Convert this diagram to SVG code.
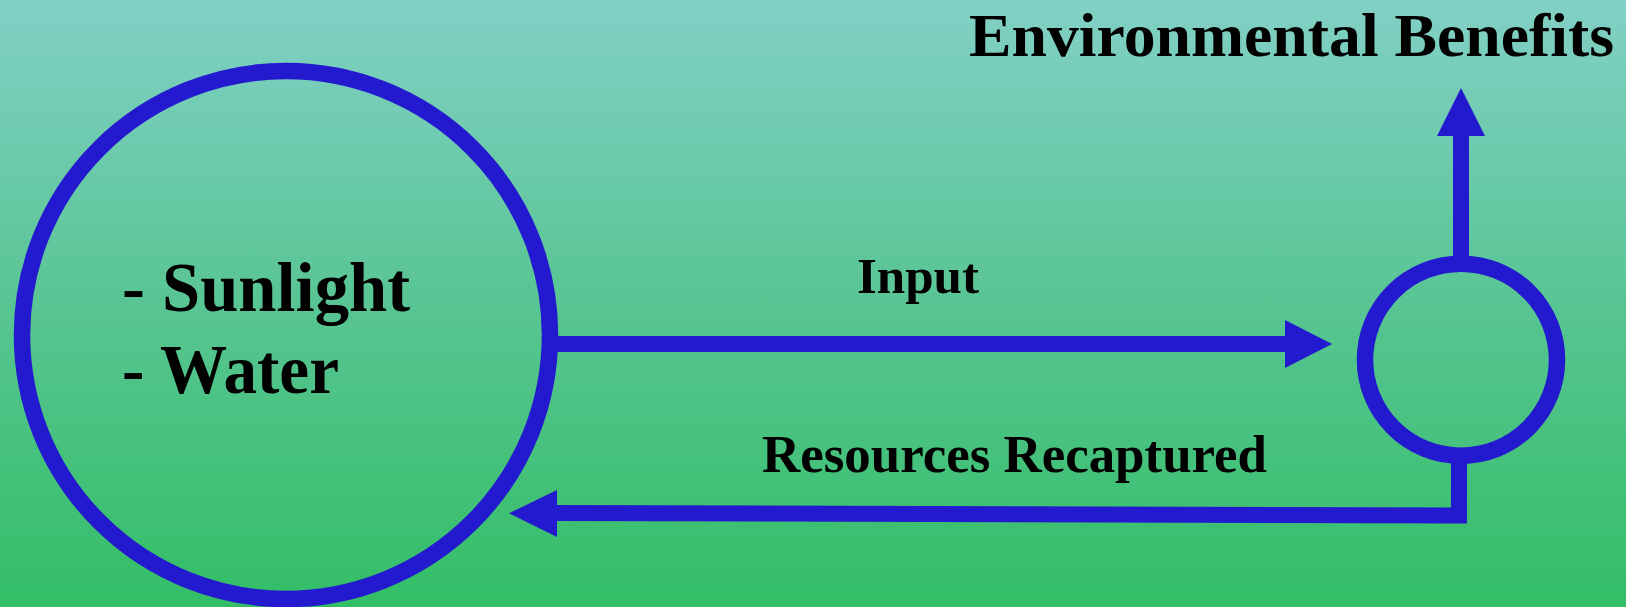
<svg xmlns="http://www.w3.org/2000/svg" width="1626" height="607" viewBox="0 0 1626 607">
  <defs>
    <linearGradient id="bg" x1="0" y1="0" x2="0" y2="1">
      <stop offset="0" stop-color="#82D0C6"/>
      <stop offset="0.5" stop-color="#58C593"/>
      <stop offset="1" stop-color="#33BE66"/>
    </linearGradient>
  </defs>
  <style>
    .ring { fill: none; stroke: #2319CF; stroke-width: 16.5; }
    .wire { fill: none; stroke: #2319CF; stroke-width: 16; stroke-linejoin: miter; }
    .head { fill: #2319CF; stroke: none; }
    .label { font-family: "Liberation Serif", "Times New Roman", serif; font-weight: bold; fill: #000; }
  </style>

  <!-- backdrop -->
  <rect x="0" y="0" width="1626" height="607" fill="url(#bg)"/>

  <!-- connectors -->
  <g id="connectors">
    <!-- input: source pool to collector -->
    <line class="wire" x1="546" y1="344" x2="1290" y2="344"/>
    <polygon class="head" points="1285,320 1332,344 1285,368"/>
    <!-- collector up to benefits -->
    <line class="wire" x1="1461" y1="260" x2="1461" y2="130"/>
    <polygon class="head" points="1437,136 1461,88 1485,136"/>
    <!-- recapture loop back to source pool -->
    <polyline class="wire" points="1459,452 1459,515.5 552,513"/>
    <polygon class="head" points="557,490 509,513.3 557,537"/>
  </g>

  <!-- source pool -->
  <g id="node-source">
    <circle class="ring" cx="286" cy="335" r="264"/>
    <text class="label" x="122" y="311" font-size="69" textLength="288" lengthAdjust="spacingAndGlyphs">- Sunlight</text>
    <text class="label" x="122" y="393" font-size="69" textLength="217" lengthAdjust="spacingAndGlyphs">- Water</text>
  </g>

  <!-- collector -->
  <g id="node-collector">
    <circle class="ring" cx="1461" cy="359.7" r="96"/>
  </g>

  <!-- benefits heading -->
  <g id="node-benefits">
    <text class="label" x="969" y="56" font-size="61" textLength="645" lengthAdjust="spacingAndGlyphs">Environmental Benefits</text>
  </g>

  <!-- connector labels -->
  <g id="labels">
    <text class="label" x="857" y="293" font-size="51" textLength="122" lengthAdjust="spacingAndGlyphs">Input</text>
    <text class="label" x="762" y="472" font-size="52" textLength="505" lengthAdjust="spacingAndGlyphs">Resources Recaptured</text>
  </g>
</svg>
